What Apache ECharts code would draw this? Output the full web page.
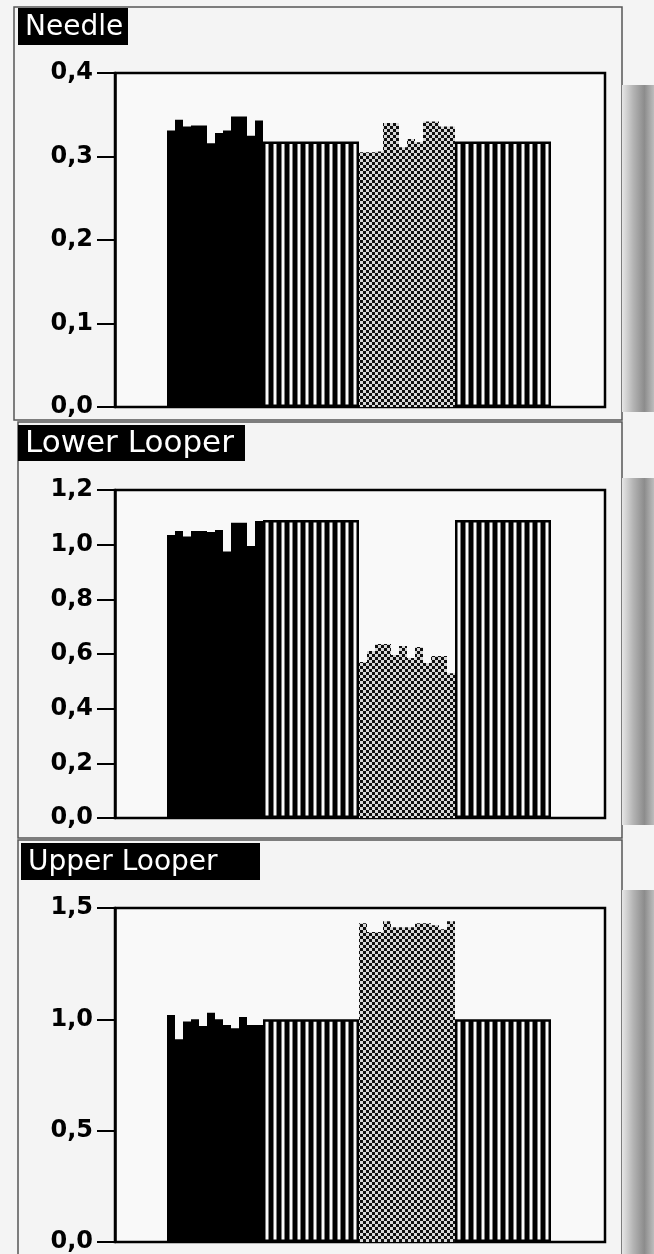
<!DOCTYPE html>
<html><head><meta charset="utf-8">
<script src="https://cdn.jsdelivr.net/npm/echarts@6/dist/echarts.min.js"></script>
<style>html,body{margin:0;padding:0;background:#f4f4f4;}#c{width:654px;height:1254px;}</style>
</head><body><div id="c"></div>
<script>
// ---- data ----
const panelTitles = ['Needle', 'Lower Looper', 'Upper Looper'];
const yMax = [0.4, 1.2, 1.5];
const yInterval = [0.1, 0.2, 0.5];

const needleBlack    = [0.331, 0.344, 0.336, 0.337, 0.337, 0.316, 0.328, 0.331, 0.348, 0.348, 0.325, 0.343];
const needleStripedA = [0.318, 0.318, 0.318, 0.318, 0.318, 0.318, 0.318, 0.318, 0.318, 0.318, 0.318, 0.318];
const needleGray     = [0.305, 0.305, 0.306, 0.340, 0.340, 0.311, 0.321, 0.317, 0.342, 0.342, 0.336, 0.336];
const needleStripedB = [0.318, 0.318, 0.318, 0.318, 0.318, 0.318, 0.318, 0.318, 0.318, 0.318, 0.318, 0.318];

const lowerBlack    = [1.035, 1.050, 1.030, 1.050, 1.050, 1.046, 1.054, 0.975, 1.080, 1.080, 0.995, 1.087];
const lowerStripedA = [1.09, 1.09, 1.09, 1.09, 1.09, 1.09, 1.09, 1.09, 1.09, 1.09, 1.09, 1.09];
const lowerGray     = [0.571, 0.611, 0.637, 0.637, 0.596, 0.629, 0.585, 0.626, 0.567, 0.593, 0.593, 0.530];
const lowerStripedB = [1.09, 1.09, 1.09, 1.09, 1.09, 1.09, 1.09, 1.09, 1.09, 1.09, 1.09, 1.09];

const upperBlack    = [1.02, 0.91, 0.99, 1.00, 0.97, 1.03, 1.00, 0.975, 0.96, 1.01, 0.975, 0.975];
const upperStripedA = [1.00, 1.00, 1.00, 1.00, 1.00, 1.00, 1.00, 1.00, 1.00, 1.00, 1.00, 1.00];
const upperGray     = [1.432, 1.392, 1.392, 1.441, 1.414, 1.414, 1.414, 1.432, 1.432, 1.423, 1.405, 1.441];
const upperStripedB = [1.00, 1.00, 1.00, 1.00, 1.00, 1.00, 1.00, 1.00, 1.00, 1.00, 1.00, 1.00];

const panels = [
  [needleBlack, needleStripedA, needleGray, needleStripedB],
  [lowerBlack, lowerStripedA, lowerGray, lowerStripedB],
  [upperBlack, upperStripedA, upperGray, upperStripedB]
];

// ---- layout / style ----
const gridTops = [73, 490, 908];
const gridHeights = [334, 328, 334];
const titleBoxes = [
  {x: 18, y: 8, w: 110, h: 37, fs: 28},
  {x: 18, y: 425, w: 227, h: 36, fs: 31},
  {x: 21, y: 843, w: 239, h: 37, fs: 28}
];
const panelFrames = [
  {y: 7, h: 413}, {y: 422, h: 416}, {y: 840, h: 420}
];
const stripRanges = [[85, 412], [478, 825], [890, 1254]];

function checker() {
  const c = document.createElement('canvas');
  c.width = 6; c.height = 6;
  const g = c.getContext('2d');
  g.fillStyle = '#d8d8d8'; g.fillRect(0, 0, 6, 6);
  g.fillStyle = '#101010';
  g.fillRect(0, 0, 3, 3); g.fillRect(3, 3, 3, 3);
  return c;
}
const grayPattern = {image: checker(), repeat: 'repeat'};

function groupData(values, start) { return values.map((v, i) => [start + i, v]); }

const chart = echarts.init(document.getElementById('c'), null, {renderer: 'canvas'});
const grid = [], xAxis = [], yAxis = [], series = [], graphic = [];

panels.forEach((p, k) => {
  grid.push({left: 115, right: 49, top: gridTops[k], height: gridHeights[k],
    show: true, borderColor: '#000', borderWidth: 2.5, backgroundColor: '#f9f9f9'});
  xAxis.push({gridIndex: k, type: 'value', min: -7, max: 54.25, show: false});
  yAxis.push({gridIndex: k, type: 'value', min: 0, max: yMax[k], interval: yInterval[k], position: 'left',
    splitLine: {show: false},
    axisLine: {show: true, onZero: false, lineStyle: {color: '#000', width: 2.5}},
    axisTick: {show: true, length: 18, lineStyle: {color: '#000', width: 2}},
    axisLabel: {margin: 22, color: '#000', fontFamily: 'DejaVu Sans', fontWeight: 'bold', fontSize: 24,
      formatter: v => v.toFixed(1).replace('.', ',')}});
  const common = {type: 'bar', xAxisIndex: k, yAxisIndex: k, barWidth: 8, barGap: '-100%', silent: true, animation: false};
  series.push(Object.assign({}, common, {name: 'black' + k, data: groupData(p[0], 0),
    itemStyle: {color: '#000'}}));
  series.push(Object.assign({}, common, {name: 'striped' + k,
    data: groupData(p[1], 12).concat(groupData(p[3], 36)),
    itemStyle: {color: '#fafafa', borderColor: '#000', borderWidth: 2.5}}));
  series.push(Object.assign({}, common, {name: 'gray' + k, data: groupData(p[2], 24),
    itemStyle: {color: grayPattern}}));

  const f = panelFrames[k];
  graphic.push({type: 'rect', z: -1, shape: {x: 14 + (k ? 4 : 0), y: f.y, width: 608 - (k ? 4 : 0), height: f.h},
    style: {fill: 'none', stroke: '#555', lineWidth: 1.5}});
  const s = stripRanges[k];
  graphic.push({type: 'rect', z: -1, shape: {x: 622, y: s[0], width: 32, height: s[1] - s[0]},
    style: {fill: new echarts.graphic.LinearGradient(0, 0, 1, 0, [
      {offset: 0, color: '#e6e6e6'}, {offset: 0.35, color: '#b4b4b4'},
      {offset: 0.7, color: '#8c8c8c'}, {offset: 1, color: '#bdbdbd'}])}});
  const t = titleBoxes[k];
  graphic.push({type: 'rect', shape: {x: t.x, y: t.y, width: t.w, height: t.h}, style: {fill: '#000'}});
  graphic.push({type: 'text', x: t.x + 7, y: t.y + t.h / 2 + 1,
    style: {text: panelTitles[k], fill: '#fff', font: t.fs + 'px "DejaVu Sans"', verticalAlign: 'middle', align: 'left'}});
});

chart.setOption({backgroundColor: '#f4f4f4', animation: false, grid, xAxis, yAxis, series, graphic});
</script>
</body></html>
